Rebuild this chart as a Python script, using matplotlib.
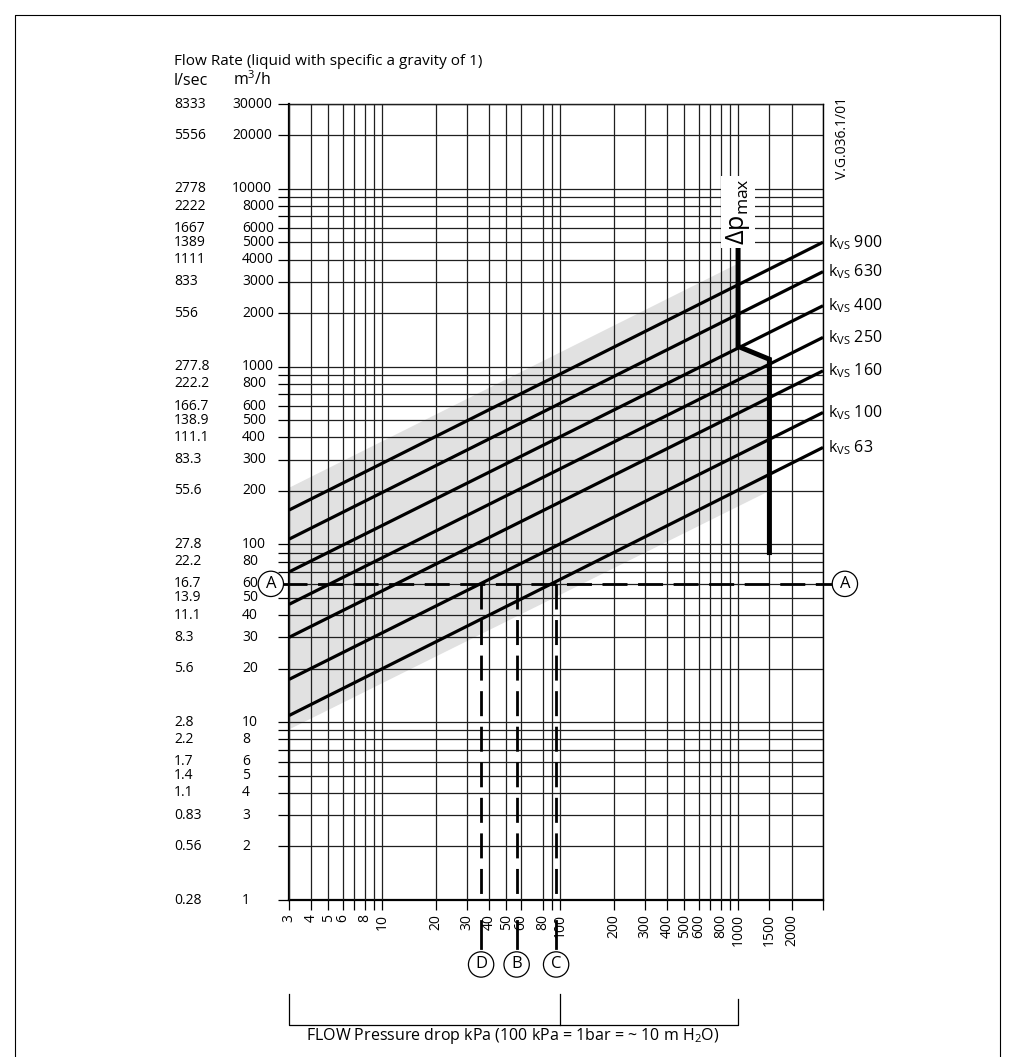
import matplotlib
matplotlib.use('Agg')
import matplotlib.pyplot as plt
import matplotlib.transforms as mtransforms
from matplotlib.ticker import FixedLocator, FixedFormatter, NullLocator
from matplotlib.lines import Line2D

plt.rcParams['font.family'] = ['Open Sans', 'DejaVu Sans']
plt.rcParams['mathtext.fontset'] = 'custom'
plt.rcParams['mathtext.rm'] = 'Open Sans'
plt.rcParams['mathtext.it'] = 'Open Sans:italic'

# flow axis (m3/h) with l/sec equivalents
flowTicks = [1, 2, 3, 4, 5, 6, 8, 10, 20, 30, 40, 50, 60, 80, 100, 200, 300, 400, 500, 600, 800,
             1000, 2000, 3000, 4000, 5000, 6000, 8000, 10000, 20000, 30000]
flowLsec = ['0.28', '0.56', '0.83', '1.1', '1.4', '1.7', '2.2', '2.8', '5.6', '8.3', '11.1', '13.9',
            '16.7', '22.2', '27.8', '55.6', '83.3', '111.1', '138.9', '166.7', '222.2', '277.8',
            '556', '833', '1111', '1389', '1667', '2222', '2778', '5556', '8333']
flowGridExtra = [7, 9, 70, 90, 700, 900, 7000, 9000]

# pressure drop axis (kPa)
dpTicks = [3, 4, 5, 6, 8, 10, 20, 30, 40, 50, 60, 80, 100, 200, 300, 400, 500, 600, 800, 1000, 1500, 2000]
dpGridExtra = [7, 9, 90, 700, 900, 3000]

# kvs lines: flow read at 3 kPa and at 3000 kPa
kvsValues = [900, 630, 400, 250, 160, 100, 63]
kvsFlowAt3 = [156, 107, 70, 46, 30, 17.4, 10.9]
kvsFlowAt3000 = [5010, 3420, 2200, 1460, 947, 552, 351]

# grey working band
bandDp = [3, 1000, 1000, 1500, 1500, 3]
bandFlow = [208, 3800, 1300, 1100, 200, 9.1]

# dp max limit
dpMaxDp = [1000, 1000, 1500, 1500]
dpMaxFlow = [4800, 1300, 1100, 90]

# example reading
exampleFlow = 60
exampleDp = [36, 57, 95]
exampleLabels = ['D', 'B', 'C']

W, H = 1013, 1057
fig = plt.figure(figsize=(W / 100, H / 100), dpi=100)
ax = fig.add_axes([289 / W, 1 - 900 / H, 534 / W, 796 / H])
ax.set_xscale('log')
ax.set_yscale('log')
ax.set_xlim(3, 3000)
ax.set_ylim(1, 30000)

xGrid = sorted(dpTicks + dpGridExtra)
yGrid = sorted(flowTicks + flowGridExtra)
ax.xaxis.set_major_locator(FixedLocator(xGrid))
ax.yaxis.set_major_locator(FixedLocator(yGrid))
ax.xaxis.set_minor_locator(NullLocator())
ax.yaxis.set_minor_locator(NullLocator())
xLabels = [str(v) if v in dpTicks else '' for v in xGrid]
ax.xaxis.set_major_formatter(FixedFormatter(xLabels))
ax.yaxis.set_major_formatter(FixedFormatter([''] * len(yGrid)))
ax.grid(True, which='major', color='0.12', lw=0.9, zorder=1)
ax.set_axisbelow(False)
ax.tick_params(axis='y', length=8, width=0.9, direction='out', color='black')
ax.tick_params(axis='x', length=7, width=0.9, direction='out', color='black',
               labelsize=10, labelrotation=90, pad=3)
for s in ax.spines.values():
    s.set_linewidth(1.0)
ax.spines['left'].set_linewidth(1.6)
ax.spines['bottom'].set_linewidth(1.6)

# band, kvs lines, dp max
ax.fill(bandDp, bandFlow, color='#e1e1e1', lw=0, zorder=0.5)
for k, f0, f1 in zip(kvsValues, kvsFlowAt3, kvsFlowAt3000):
    ax.plot([3, 3000], [f0, f1], color='black', lw=2.3, zorder=3, solid_capstyle='butt')
ax.plot(dpMaxDp, dpMaxFlow, color='black', lw=3.6, zorder=4, solid_joinstyle='miter')

ytr = ax.get_yaxis_transform()
xtr = ax.get_xaxis_transform()
for k, f1 in zip(kvsValues, kvsFlowAt3000):
    ax.text(1.01, f1, r'k$_{\rm VS}$ ' + str(k), transform=ytr, fontsize=11.5,
            ha='left', va='center')

ax.text(1000, 7400, r'$\Delta$p$_{\rm max}$', rotation=90, fontsize=18, ha='center',
        va='center', zorder=5,
        bbox=dict(facecolor='white', edgecolor='none', pad=2))

# example dashed lines
ax.plot([-0.013, 1.02], [exampleFlow, exampleFlow], transform=ytr, color='black', lw=2,
        dashes=(9, 3.8), clip_on=False, zorder=5)
for dp, lab in zip(exampleDp, exampleLabels):
    ax.plot([dp, dp], [exampleFlow, 1], color='black', lw=2, dashes=(9, 3.8), zorder=5)
    ax.plot([dp, dp], [-0.027, -0.06], transform=xtr, color='black', lw=2, clip_on=False)
    ax.text(dp, -0.081, lab, transform=xtr, fontsize=12, ha='center', va='center',
            bbox=dict(boxstyle='circle,pad=0.28', fc='white', ec='black', lw=0.9))
for xa in [-0.034, 1.041]:
    ax.text(xa, exampleFlow, 'A', transform=ytr, fontsize=12, ha='center', va='center',
            zorder=6, bbox=dict(boxstyle='circle,pad=0.28', fc='white', ec='black', lw=0.9))

# left flow labels
ftr = mtransforms.blended_transform_factory(fig.transFigure, ax.transData)
for v, ls in zip(flowTicks, flowLsec):
    lab = str(v)
    xm = 232 if len(lab) >= 5 else 242
    ax.text(xm / W, v, lab, transform=ftr, fontsize=10, ha='left', va='center')
    ax.text(174 / W, v, ls, transform=ftr, fontsize=10, ha='left', va='center')

fig.text(174 / W, 1 - 65 / H, 'Flow Rate (liquid with specific a gravity of 1)', fontsize=11,
         ha='left', va='baseline')
fig.text(174 / W, 1 - 85 / H, 'l/sec', fontsize=11.5, ha='left', va='baseline')
fig.text(233 / W, 1 - 85 / H, r'm$^3$/h', fontsize=11.5, ha='left', va='baseline')
fig.text(842 / W, 1 - 138 / H, 'V.G.036.1/01', fontsize=10, rotation=90, ha='center', va='center')

# bottom bracket
ax.plot([3, 3, 1000, 1000], [-0.118, -0.157, -0.157, -0.124], transform=xtr, color='black',
        lw=0.9, clip_on=False)
ax.plot([100, 100], [-0.118, -0.157], transform=xtr, color='black', lw=0.9, clip_on=False)
ax.text(0.4195, -0.171, r'FLOW Pressure drop kPa (100 kPa = 1bar = ~ 10 m H$_2$O)', transform=ax.transAxes,
        fontsize=11.5, ha='center', va='center')

# outer frame
frame = Line2D([15 / W, 15 / W, 1000 / W, 1000 / W], [0, 1 - 15 / H, 1 - 15 / H, 0],
               transform=fig.transFigure, color='black', lw=0.8)
fig.add_artist(frame)

fig.savefig('out.png', dpi=100)
